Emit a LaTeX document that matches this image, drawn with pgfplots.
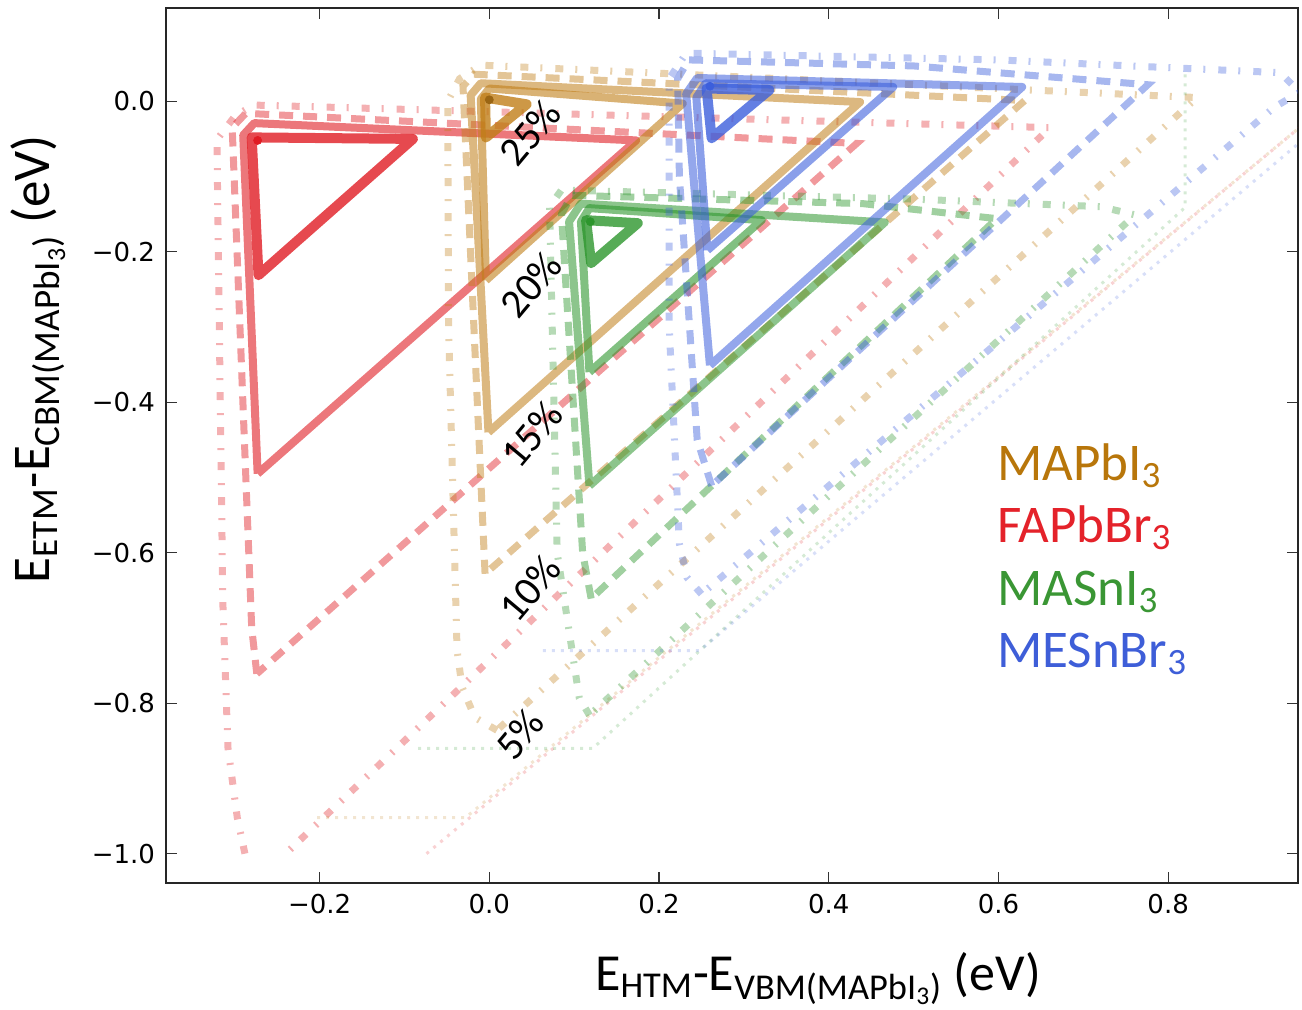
\documentclass[border=0pt]{standalone}
\usepackage{fontspec}
\setmainfont{Carlito}
\newfontfamily\dejavu{DejaVu Sans}
\usepackage{pgfplots}
\pgfplotsset{compat=1.18}

\definecolor{cred}{RGB}{224,28,35}
\definecolor{cgold}{RGB}{192,126,24}
\definecolor{cgreen}{RGB}{45,150,45}
\definecolor{cblue}{RGB}{60,95,220}
\definecolor{tgold}{RGB}{184,118,10}
\definecolor{tred}{RGB}{228,34,42}
\definecolor{tgreen}{RGB}{58,150,52}
\definecolor{tblue}{RGB}{62,94,216}

\pgfplotsset{
  lA/.style={line width=5pt, draw opacity=0.8, line join=round, line cap=round},
  lB/.style={line width=4pt, draw opacity=0.6, line join=round},
  lC/.style={line width=4pt, draw opacity=0.55, line join=round},
  lD/.style={line width=3.5pt, draw opacity=0.45, dash pattern=on 7pt off 5pt},
  lE/.style={line width=3.5pt, draw opacity=0.35, dash pattern=on 4pt off 6pt on 1pt off 6.5pt},
  lF/.style={line width=1.5pt, draw opacity=0.2, dash pattern=on 1.5pt off 3pt},
}
\tikzset{pct/.style={font=\fontsize{20.5}{22}\selectfont, rotate=50, text=black}}

\begin{document}
\begin{tikzpicture}
\begin{axis}[
  at={(0,0)}, anchor=south west,
  scale only axis, width=566pt, height=437.5pt,
  xmin=-0.381, xmax=0.953, ymin=-1.039, ymax=0.124,
  xtick={-0.2,0,0.2,0.4,0.6,0.8},
  xticklabels={−0.2,0.0,0.2,0.4,0.6,0.8},
  ytick={-1,-0.8,-0.6,-0.4,-0.2,0},
  yticklabels={−1.0,−0.8,−0.6,−0.4,−0.2,0.0},
  tick align=inside, xtick pos=both, ytick pos=both,
  major tick length=5.5pt,
  tick style={line width=0.6pt, black!80},
  axis line style={line width=1.2pt, black!85},
  ticklabel style={font=\dejavu\fontsize{13}{15}\selectfont},
  xticklabel style={yshift=-2pt},
  yticklabel style={xshift=-2pt},
]
% FAPbBr3
\addplot[cred, lF] coordinates {(-0.074,-1.0) (0.96,-0.03)};
\addplot[cred, lE] coordinates {(-0.288,-1.0) (-0.297,-0.952) (-0.308,-0.859) (-0.314,-0.667) (-0.321,-0.051) (-0.300,-0.020) (-0.278,-0.005) (0.661,-0.035) (-0.24,-1.0)};
\addplot[cred, lD] coordinates {(-0.274,-0.761) (-0.280,-0.70) (-0.303,-0.035) (-0.287,-0.016) (0.433,-0.056) (-0.274,-0.761)};
\addplot[cred, lB] coordinates {(-0.273,-0.495) (-0.290,-0.045) (-0.277,-0.029) (0.173,-0.052) (-0.273,-0.495)};
\addplot[cred, lA] coordinates {(-0.272,-0.231) (-0.280,-0.048) (-0.090,-0.050) (-0.272,-0.231)};
% MAPbI3
\addplot[cgold, lF] coordinates {(-0.203,-0.952) (-0.028,-0.952) (0.96,-0.03)};
\addplot[cgold, lE] coordinates {(0.009,-0.836) (-0.017,-0.819) (-0.032,-0.779) (-0.038,-0.73) (-0.048,-0.3) (-0.049,0.0) (-0.035,0.03) (-0.01,0.048) (0.834,0.005) (0.009,-0.836)};
\addplot[cgold, lD] coordinates {(-0.005,-0.628) (-0.031,0.02) (-0.018,0.036) (0.631,0.001) (-0.005,-0.628)};
\addplot[cgold, lC] coordinates {(-0.001,-0.44) (-0.022,0.008) (-0.010,0.024) (0.437,-0.001) (-0.001,-0.44)};
\addplot[cgold, lB] coordinates {(-0.004,-0.238) (-0.010,0.003) (0.000,0.017) (0.228,-0.003) (-0.004,-0.238)};
\addplot[cgold, lA] coordinates {(-0.004,-0.048) (-0.005,0.005) (0.044,-0.004) (-0.004,-0.048)};
% MASnI3
\addplot[cgreen, lF] coordinates {(-0.084,-0.86) (0.122,-0.86) (0.82,-0.141) (0.82,0.037)};
\addplot[cgreen, lE] coordinates {(0.118,-0.816) (0.106,-0.793) (0.080,-0.600) (0.071,-0.140) (0.085,-0.118) (0.500,-0.130) (0.720,-0.140) (0.761,-0.151) (0.118,-0.816)};
\addplot[cgreen, lD] coordinates {(0.120,-0.661) (0.110,-0.600) (0.085,-0.150) (0.097,-0.125) (0.440,-0.136) (0.598,-0.156) (0.120,-0.661)};
\addplot[cgreen, lC] coordinates {(0.118,-0.511) (0.094,-0.160) (0.108,-0.136) (0.466,-0.161) (0.118,-0.511)};
\addplot[cgreen, lB] coordinates {(0.118,-0.360) (0.108,-0.160) (0.118,-0.142) (0.321,-0.158) (0.118,-0.360)};
\addplot[cgreen, lA] coordinates {(0.120,-0.215) (0.114,-0.158) (0.175,-0.162) (0.120,-0.215)};
% MESnBr3
\addplot[cblue, lF] coordinates {(0.063,-0.73) (0.248,-0.73) (0.96,-0.05)};
\addplot[cblue, lE] coordinates {(0.250,-0.655) (0.233,-0.633) (0.224,-0.588) (0.212,-0.300) (0.212,0.030) (0.232,0.064) (0.600,0.055) (0.932,0.038) (0.955,0.012) (0.925,-0.008) (0.250,-0.655)};
\addplot[cblue, lD] coordinates {(0.262,-0.511) (0.245,-0.45) (0.224,-0.10) (0.222,0.030) (0.235,0.055) (0.500,0.047) (0.776,0.022) (0.262,-0.511)};
\addplot[cblue, lC] coordinates {(0.260,-0.351) (0.232,0.010) (0.245,0.031) (0.628,0.019) (0.260,-0.351)};
\addplot[cblue, lB] coordinates {(0.257,-0.198) (0.244,0.005) (0.255,0.024) (0.476,0.019) (0.257,-0.198)};
\addplot[cblue, lA] coordinates {(0.262,-0.049) (0.256,0.017) (0.330,0.015) (0.262,-0.049)};
% maxima
\addplot[only marks, mark=*, mark size=2pt, cred] coordinates {(-0.273,-0.052)};
\addplot[only marks, mark=*, mark size=2pt, cgold!80!black] coordinates {(0.0,0.002)};
\addplot[only marks, mark=*, mark size=2pt, cgreen] coordinates {(0.119,-0.160)};
\addplot[only marks, mark=*, mark size=2pt, cblue] coordinates {(0.260,0.020)};
% efficiency labels
\node[pct] at (axis cs:0.048,-0.042) {25\%};
\node[pct] at (axis cs:0.049,-0.244) {20\%};
\node[pct] at (axis cs:0.050,-0.443) {15\%};
\node[pct] at (axis cs:0.048,-0.647) {10\%};
\node[pct] at (axis cs:0.036,-0.842) {5\%};
\end{axis}
\node[anchor=base, font=\fontsize{26}{28}\selectfont] at (326pt,-53.5pt)
  {E\textsubscript{HTM}-E\textsubscript{VBM(MAPbI\textsubscript{3})} (eV)};
\node[anchor=base, rotate=90, font=\fontsize{26.5}{28}\selectfont] at (-58pt,262pt)
  {E\textsubscript{ETM}-E\textsubscript{CBM(MAPbI\textsubscript{3})} (eV)};
\begin{scope}[every node/.style={anchor=base west, font=\fontsize{26.5}{28}\selectfont}]
\node[text=tgold] at (412pt,201.5pt) {MAPbI\textsubscript{3}};
\node[text=tred] at (412pt,170.5pt) {FAPbBr\textsubscript{3}};
\node[text=tgreen] at (412pt,139pt) {MASnI\textsubscript{3}};
\node[text=tblue] at (412pt,108pt) {MESnBr\textsubscript{3}};
\end{scope}
\pgfresetboundingbox
\path (-83pt,-63pt) rectangle (568pt,441.5pt);
\end{tikzpicture}
\end{document}
